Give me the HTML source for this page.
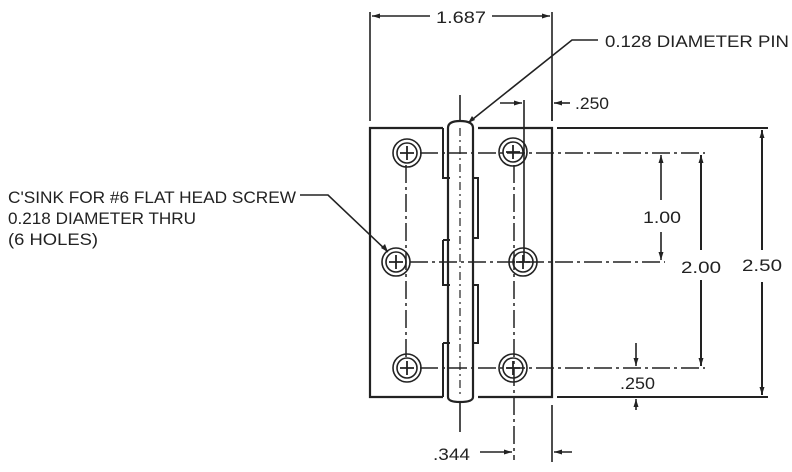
<!DOCTYPE html>
<html><head><meta charset="utf-8"><style>
html,body{margin:0;padding:0;background:#fff;}
svg{display:block;}
text{font-family:"Liberation Sans",sans-serif;fill:#222;}
</style></head><body>
<svg width="792" height="472" viewBox="0 0 792 472" xmlns="http://www.w3.org/2000/svg">
<g stroke="#222" fill="none" stroke-width="1.6">
<line x1="370" y1="12" x2="370" y2="121"/>
<line x1="552" y1="12" x2="552" y2="121"/>
<line x1="372" y1="16" x2="430" y2="16"/>
<line x1="492" y1="16" x2="550" y2="16"/>
<path d="M443 128 H370 V397 H443" stroke-width="2.2"/>
<path d="M478 128 H552 V397 H478" stroke-width="2.2"/>
<path d="M443 128 V178 H450 M443 240 V285 H450 M450 240 H443 M443 343 V397 M443 343 H450" stroke-width="2"/>
<path d="M472 178 H478 V238 H472 M472 285 H478 V343 H472" stroke-width="2"/>
<path d="M448 128 Q448 121 460 121 Q473 121 473 128 V397 Q473 402 460 402 Q448 402 448 397 Z" stroke-width="2.2"/>
<line x1="460" y1="95" x2="460" y2="120"/>
<line x1="460" y1="403" x2="460" y2="432"/>
<line x1="460" y1="128" x2="460" y2="397" stroke-dasharray="8 4 2 4" stroke-width="1.2"/>
<line x1="557" y1="128" x2="768" y2="128" stroke-width="2"/>
<line x1="557" y1="397" x2="768" y2="397" stroke-width="2"/>
<line x1="552" y1="90" x2="552" y2="121"/>
<line x1="552" y1="405" x2="552" y2="462"/>
<g stroke-dasharray="18 4 3 4" stroke-width="1.5">
<line x1="420" y1="153" x2="705" y2="153"/>
<line x1="410" y1="262" x2="665" y2="262"/>
<line x1="420" y1="368" x2="705" y2="368"/>
<line x1="406" y1="165" x2="406" y2="358"/>
<line x1="514" y1="165" x2="514" y2="460"/>
</g>
<line x1="524" y1="100" x2="524" y2="262"/>
<g stroke-width="1.6">
<circle cx="407" cy="153" r="14"/><circle cx="407" cy="153" r="10"/>
<circle cx="396" cy="262" r="14"/><circle cx="396" cy="262" r="10"/>
<circle cx="407" cy="368" r="14"/><circle cx="407" cy="368" r="10"/>
<circle cx="513" cy="152" r="14"/><circle cx="513" cy="152" r="10"/>
<circle cx="523" cy="262" r="14"/><circle cx="523" cy="262" r="10"/>
<circle cx="513" cy="368" r="14"/><circle cx="513" cy="368" r="10"/>
</g>
<g stroke-width="1.8">
<path d="M400 153 h14 M407 146 v14"/>
<path d="M389 262 h14 M396 255 v14"/>
<path d="M400 368 h14 M407 361 v14"/>
<path d="M506 152 h14 M513 145 v14"/>
<path d="M516 262 h14 M523 255 v14"/>
<path d="M506 368 h14 M513 361 v14"/>
</g>
<line x1="762" y1="130" x2="762" y2="250" stroke-width="2"/>
<line x1="762" y1="282" x2="762" y2="395" stroke-width="2"/>
<line x1="701" y1="155" x2="701" y2="250" stroke-width="2"/>
<line x1="701" y1="280" x2="701" y2="366" stroke-width="2"/>
<line x1="661" y1="155" x2="661" y2="200"/>
<line x1="661" y1="232" x2="661" y2="260"/>
<line x1="636" y1="343" x2="636" y2="366"/>
<line x1="636" y1="399" x2="636" y2="410"/>
<line x1="500" y1="103" x2="522" y2="103"/>
<line x1="554" y1="103" x2="570" y2="103"/>
<line x1="480" y1="452" x2="512" y2="452"/>
<line x1="554" y1="452" x2="572" y2="452"/>
<polyline points="598,40 572,40 468,123"/>
<polyline points="300,195 328,195 388,252"/>
</g>
<g fill="#222">
<path d="M372 16 l8 -2.5 v5z M550 16 l-8 -2.5 v5z"/>
<path d="M522 103 l-8 -2.5 v5z M554 103 l8 -2.5 v5z"/>
<path d="M512 452 l-8 -2.5 v5z M554 452 l8 -2.5 v5z"/>
<path d="M762 130 l-2.5 8 h5z M762 395 l-2.5 -8 h5z"/>
<path d="M701 155 l-2.5 8 h5z M701 366 l-2.5 -8 h5z"/>
<path d="M661 155 l-2.5 8 h5z M661 260 l-2.5 -8 h5z"/>
<path d="M636 366 l-2.5 -8 h5z M636 399 l-2.5 8 h5z"/>
<path d="M388 252 l-3 -8 l-4 4z M468 123 l4 -7 l3 4z"/>
</g>
<g font-size="17">
<text x="436" y="23" textLength="50" lengthAdjust="spacingAndGlyphs">1.687</text>
<text x="605" y="47" textLength="184" lengthAdjust="spacingAndGlyphs">0.128 DIAMETER PIN</text>
<text x="575" y="109" textLength="34" lengthAdjust="spacingAndGlyphs">.250</text>
<text x="8" y="203" textLength="288" lengthAdjust="spacingAndGlyphs">C'SINK FOR #6 FLAT HEAD SCREW</text>
<text x="8" y="224" textLength="188" lengthAdjust="spacingAndGlyphs">0.218 DIAMETER THRU</text>
<text x="8" y="245" textLength="90" lengthAdjust="spacingAndGlyphs">(6 HOLES)</text>
<text x="643" y="223" textLength="38" lengthAdjust="spacingAndGlyphs">1.00</text>
<text x="681" y="273" textLength="40" lengthAdjust="spacingAndGlyphs">2.00</text>
<text x="742" y="271" textLength="40" lengthAdjust="spacingAndGlyphs">2.50</text>
<text x="620" y="389" textLength="35" lengthAdjust="spacingAndGlyphs">.250</text>
<text x="433" y="460" textLength="37" lengthAdjust="spacingAndGlyphs">.344</text>
</g>
</svg>
</body></html>
